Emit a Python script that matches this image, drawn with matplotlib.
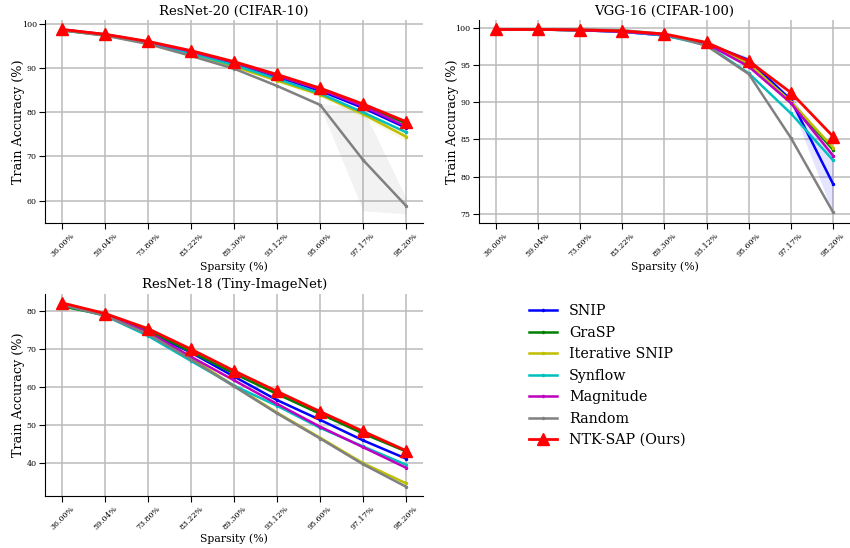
import matplotlib
matplotlib.use("Agg")
import numpy as np
from matplotlib import pyplot as plt

plt.rcParams['font.family'] = 'DejaVu Serif'

sparsity = ["36.00%", "59.04%", "73.80%", "83.22%", "89.30%",
            "93.12%", "95.60%", "97.17%", "98.20%"]
methods = ["SNIP", "GraSP", "Iterative SNIP", "Synflow", "Magnitude",
           "Random", "NTK-SAP (Ours)"]
colors = ["b", "g", "y", "c", "m", "gray", "r"]

# ResNet-20 on CIFAR-10
r20_snip = [98.7, 97.6, 95.9, 93.6, 91.0, 88.0, 84.9, 81.0, 76.5]
r20_grasp = [98.6, 97.5, 95.8, 93.7, 91.2, 88.4, 85.3, 81.7, 77.5]
r20_itsnip = [98.7, 97.5, 95.7, 93.3, 90.4, 87.2, 84.0, 79.6, 74.5]
r20_synflow = [98.7, 97.5, 95.8, 93.4, 90.7, 87.6, 84.3, 80.0, 75.5]
r20_mag = [98.8, 97.7, 96.0, 93.8, 91.3, 88.3, 85.2, 81.4, 76.8]
r20_random = [98.6, 97.4, 95.5, 92.8, 89.9, 86.0, 81.7, 69.2, 58.8]
r20_ntk = [98.8, 97.7, 96.1, 94.0, 91.5, 88.6, 85.5, 81.9, 77.9]
r20_std_itsnip = [0.1, 0.1, 0.1, 0.2, 0.3, 0.4, 0.5, 0.8, 1.0]
r20_std_random = [0.1, 0.1, 0.1, 0.2, 0.2, 0.3, 0.4, 11.5, 1.8]

# VGG-16 on CIFAR-100
vgg_snip = [99.8, 99.8, 99.7, 99.5, 99.0, 97.9, 95.7, 90.3, 79.0]
vgg_grasp = [99.8, 99.8, 99.7, 99.6, 99.1, 98.0, 95.1, 90.0, 83.6]
vgg_itsnip = [99.8, 99.8, 99.7, 99.6, 99.1, 98.0, 95.2, 90.1, 83.9]
vgg_synflow = [99.8, 99.8, 99.7, 99.5, 99.0, 97.7, 93.9, 88.5, 82.2]
vgg_mag = [99.8, 99.8, 99.7, 99.5, 99.1, 97.9, 94.8, 89.9, 82.8]
vgg_random = [99.8, 99.8, 99.8, 99.7, 99.2, 97.6, 93.8, 85.2, 75.2]
vgg_ntk = [99.8, 99.8, 99.75, 99.6, 99.2, 98.05, 95.55, 91.3, 85.4]
vgg_std_snip = [0.0, 0.0, 0.0, 0.1, 0.1, 0.2, 0.4, 0.6, 4.0]

# ResNet-18 on Tiny-ImageNet
r18_snip = [81.8, 79.1, 74.5, 69.1, 62.8, 56.6, 51.4, 46.0, 41.2]
r18_grasp = [81.3, 79.0, 75.0, 69.3, 63.6, 58.2, 53.0, 47.8, 43.1]
r18_itsnip = [81.8, 79.0, 74.2, 67.6, 60.4, 53.3, 46.7, 40.0, 34.7]
r18_synflow = [81.7, 78.8, 73.5, 66.9, 60.4, 55.1, 49.3, 44.4, 39.6]
r18_mag = [81.8, 79.0, 74.5, 68.0, 61.8, 55.6, 49.6, 44.2, 38.8]
r18_random = [81.8, 78.8, 74.0, 67.3, 60.2, 53.1, 46.5, 39.7, 33.8]
r18_ntk = [82.2, 79.4, 75.4, 70.0, 64.3, 58.9, 53.6, 48.4, 43.3]


def draw_panel(ax, series, title, shades):
    x = np.arange(len(sparsity))
    for name, vals, c in zip(methods, series, colors):
        if name == "NTK-SAP (Ours)":
            ax.plot(x, vals, color=c, marker='^', markersize=9, lw=2,
                    label=name, zorder=5)
        else:
            ax.plot(x, vals, color=c, marker='.', markersize=3, lw=1.8,
                    label=name)
    for idx, std in shades:
        m = np.array(series[idx])
        s = np.array(std)
        ax.fill_between(x, m - s, m + s, color=colors[idx], alpha=0.1, lw=0)
    ax.set_title(title, fontsize=9.5, pad=4)
    ax.set_xticks(x)
    ax.set_xticklabels(sparsity, rotation=45, fontsize=5.7)
    ax.tick_params(axis='y', labelsize=5.7)
    ax.set_xlabel("Sparsity (%)", fontsize=7.8, labelpad=2)
    ax.set_ylabel("Train Accuracy (%)", fontsize=9.2)
    ax.yaxis.set_label_coords(-0.053, 0.5)
    ax.grid(True, color='#bbbbbb', lw=1.1)
    ax.set_axisbelow(True)
    ax.spines['top'].set_visible(False)
    ax.spines['right'].set_visible(False)
    ax.tick_params(length=4, pad=2)


fig = plt.figure(figsize=(8.5, 5.48), dpi=100)
ax1 = fig.add_axes([0.053, 0.593, 0.445, 0.370])
ax2 = fig.add_axes([0.5635, 0.593, 0.4365, 0.370])
ax3 = fig.add_axes([0.053, 0.095, 0.445, 0.369])

draw_panel(ax1, [r20_snip, r20_grasp, r20_itsnip, r20_synflow, r20_mag,
                 r20_random, r20_ntk], "ResNet-20 (CIFAR-10)",
           [(2, r20_std_itsnip), (5, r20_std_random)])
ax1.set_yticks([60, 70, 80, 90, 100])
draw_panel(ax2, [vgg_snip, vgg_grasp, vgg_itsnip, vgg_synflow, vgg_mag,
                 vgg_random, vgg_ntk], "VGG-16 (CIFAR-100)",
           [(0, vgg_std_snip)])
ax2.set_yticks([75, 80, 85, 90, 95, 100])
draw_panel(ax3, [r18_snip, r18_grasp, r18_itsnip, r18_synflow, r18_mag,
                 r18_random, r18_ntk], "ResNet-18 (Tiny-ImageNet)", [])
ax3.set_yticks([40, 50, 60, 70, 80])

handles, labels = ax1.get_legend_handles_labels()
fig.legend(handles, labels, loc='upper left', bbox_to_anchor=(0.607, 0.468),
           frameon=False, fontsize=10.3, handlelength=2.0, labelspacing=0.52,
           handletextpad=0.8)

fig.savefig("out.png", dpi=100)
